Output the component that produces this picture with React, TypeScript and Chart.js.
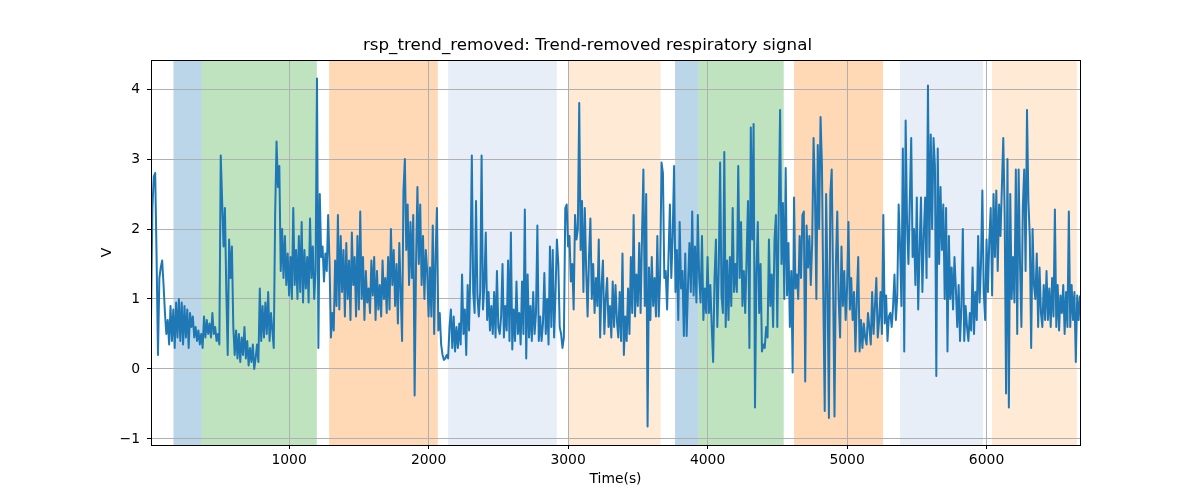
import React, { useEffect, useRef } from 'react';
import { Chart, registerables } from 'chart.js';

Chart.register(...registerables);

// time step between samples (s)
const SAMPLE_STEP = 10;

// signal, in chunks (start time + values, one row = 100 s)
const chunkAStart = 10;
const chunkA = [
  0.66, 2.3, 2.75, 2.8, 1.6, 0.2, 1.3, 1.45, 1.55, 1.2,
  0.8, 0.5, 0.7, 0.35, 0.9, 0.4, 0.85, 0.3, 0.95, 0.45,
  1.0, 0.4, 0.95, 0.35, 0.9, 0.45, 0.85, 0.3, 0.8, 0.6,
  0.75, 0.45, 0.6, 0.4, 0.55, 0.35, 0.5, 0.3, 0.75, 0.45,
  0.7, 0.5, 0.65, 0.45, 0.8, 0.5, 0.6, 0.4, 0.5, 0.35,
  3.05, 2.4, 1.75, 2.3, 1.1, 0.2, 1.85, 1.3, 1.75, 0.6,
  0.2, 0.55, 0.15, 0.5, 0.1, 0.45, 0.2, 0.6, 0.15, 0.4,
  0.05, 0.3, 0.1, 0.35, 0.0, 0.15, 0.35, 0.1, 1.15, 0.4,
  0.9, 0.45, 0.95, 0.5, 1.1, 0.4, 0.8, 0.55, 0.3, 2.2,
  3.25, 2.6, 2.9, 1.4, 2.0, 1.3, 1.9, 1.2, 1.65, 1.05,
  1.6, 1.0, 2.3, 1.2, 1.7, 1.0, 1.9, 1.1, 2.1, 0.95,
];

const chunkBStart = 1110;
const chunkB = [
  1.7, 1.15, 1.6, 0.95, 2.15, 1.3, 1.75, 1.0, 1.4, 4.15,
  0.3, 2.5, 1.6, 1.75, 1.25, 1.65, 1.4, 2.2, 1.5, 0.45,
  0.8, 0.55, 1.55, 0.9, 2.2, 0.85, 1.9, 1.1, 1.7, 0.75,
  1.8, 1.0, 1.55, 0.7, 1.95, 1.2, 1.6, 0.75, 1.9, 0.85,
  2.25, 1.0, 1.6, 0.7, 1.4, 0.95, 1.15, 0.8, 1.55, 1.05,
  1.6, 0.7, 1.4, 0.85, 1.2, 0.75, 1.55, 1.0, 1.3, 0.8,
  1.6, 0.85, 2.0, 1.2, 1.7, 0.9, 1.5, 0.65, 1.8, 1.1,
  0.4, 2.55, 3.0, 1.7, 2.35, 1.2, 2.1, 1.3, 2.2, -0.38,
  1.5, 2.6, 1.5, 2.35, 1.2, 1.9, 1.0, 1.7, 1.4, 0.75,
  1.45, 0.75, 2.05, 0.5, 1.6, 2.3, 0.55, 0.8, 0.35, 0.2,
  0.13, 0.15, 0.2, 0.15, 0.6, 0.85, 0.3, 0.75, 0.25, 0.6,
];

const chunkCStart = 2210;
const chunkC = [
  0.3, 0.65, 0.35, 1.35, 0.5, 0.85, 0.2, 1.2, 0.55, 1.45,
  3.05, 1.1, 0.8, 2.4, 1.05, 0.75, 1.1, 3.05, 0.85, 1.2,
  1.95, 0.7, 1.1, 0.55, 0.9, 0.5, 1.1, 0.45, 1.4, 0.6,
  0.5, 0.75, 1.5, 0.45, 0.9, 0.55, 1.55, 0.4, 1.95, 0.28,
  0.85, 0.4, 1.25, 0.5, 0.8, 0.35, 1.25, 0.5, 2.28, 0.15,
  1.35, 0.45, 0.9, 0.4, 1.1, 0.5, 0.8, 2.05, 0.4, 0.75,
  0.4, 0.65, 1.37, 0.5, 1.0, 0.35, 1.75, 0.6, 1.7, 0.45,
  1.1, 1.85, 1.5, 0.6, 0.5, 0.3, 0.45, 2.3, 2.35, 1.75,
  1.9, 1.25, 1.5, 0.85, 2.2, 1.85, 2.0, 3.8, 1.7, 2.4,
  1.1, 2.3, 1.4, 0.75, 1.6, 2.15, 1.0, 1.5, 0.8, 1.3,
  0.9, 1.85, 0.45, 1.2, 1.55, 0.5, 1.0, 1.3, 0.6, 0.9,
];

const chunkDStart = 3310;
const chunkD = [
  0.45, 1.25, 0.6, 1.2, 0.7, 0.45, 1.1, 0.4, 1.65, 0.2,
  0.75, 0.4, 1.15, 0.5, 1.6, 0.8, 2.2, 0.75, 1.35, 0.9,
  1.8, 0.8, 1.9, 2.85, 0.9, 2.5, -0.82, 1.45, 0.7, 1.6,
  0.9, 1.3, 0.75, 1.9, 0.75, 1.35, 2.95, 2.8, 1.3, 1.4,
  0.85, 1.6, 2.35, 1.3, 1.9, 2.9, 1.1, 1.7, 0.7, 2.1,
  1.15, 1.4, 0.47, 1.65, 0.47, 1.2, 1.8, 1.1, 2.25, 1.05,
  1.75, 0.95, 2.2, 1.3, 0.95, 1.9, 0.7, 1.15, 0.8, 1.6,
  0.8, 1.2, 0.6, 0.1, 1.3, 1.85, 0.6, 1.4, 2.95, 1.05,
  0.8, 3.1, 0.6, 1.55, 0.7, 1.6, 0.9, 2.3, 1.1, 1.5,
  1.1, 2.9, 1.3, 2.1, 0.9, 1.4, 0.8, 1.6, 2.4, 0.3,
  3.45, 1.85, 3.5, -0.55, 1.35, 2.1, 0.8, 1.5, 0.25, 0.35,
];

const chunkEStart = 4410;
const chunkE = [
  0.3, 0.6, 0.45, 1.85, 0.9, 1.35, 0.6, 1.85, 2.2, 0.6,
  2.2, 3.7, 1.5, 2.37, 1.0, 2.87, 1.05, 1.8, 0.6, 1.4,
  -0.05, 2.45, 1.15, 1.35, 1.0, 1.9, 1.3, 2.2, 2.25, -0.18,
  2.05, 1.45, 1.9, 1.2, 1.8, 3.3, 2.5, 1.0, 3.2, 2.0,
  3.6, 2.9, 1.0, -0.6, 2.5, 1.2, -0.7, 2.5, 2.85, 1.2,
  -0.68, 1.5, 2.25, 1.0, 0.45, 1.75, 0.9, 1.4, 0.7, 1.15,
  2.1, 0.85, 1.3, 0.7, 1.1, 0.25, 1.0, 1.6, 0.25, 0.7,
  0.3, 0.65, 0.45, 0.35, 0.8, 0.6, 0.35, 1.1, 0.5, 0.9,
  1.3, 0.45, 0.7, 1.1, 0.5, 2.2, 0.65, 1.05, 0.4, 0.75,
  0.8, 0.6, 0.9, 1.35, 0.7, 1.05, 2.35, 1.75, 0.9, 3.15,
  0.25, 3.55, 2.1, 1.5, 2.4, 3.3, 1.6, 2.0, 1.2, 2.45,
];

const chunkFStart = 5510;
const chunkF = [
  0.85, 1.7, 2.45, 1.1, 1.9, 2.45, 1.3, 4.05, 1.6, 3.35,
  2.0, 3.3, 2.9, -0.1, 3.15, 1.5, 2.6, 1.7, 2.35, 1.0,
  2.3, 0.25, 1.9, 1.0, 1.45, 0.85, 1.6, 1.15, 0.6, 1.2,
  0.4, 0.9, 2.0, 0.4, 0.9, 0.6, 0.4, 0.8, 0.55, 1.45,
  0.5, 1.1, 0.7, 1.9, 0.95, 1.5, 2.55, 1.1, 0.7, 1.85,
  1.1, 1.85, 2.3, 1.05, 2.5, 1.6, 2.55, 1.4, 2.35, 1.9,
  2.6, 3.3, 2.2, -0.35, 3.0, -0.55, 2.5, 1.0, 1.6, 0.95,
  2.85, 0.5, 2.85, 1.5, 0.6, 2.3, 2.85, 1.4, 3.7, 2.4,
  1.9, 0.3, 2.0, 1.2, 1.0, 1.65, 0.6, 1.45, 0.8, 0.6,
  1.2, 0.7, 1.4, 0.7, 1.15, 0.6, 1.3, 0.75, 2.28, 0.6,
  1.2, 0.55, 1.05, 0.8, 1.2, 0.5, 1.1, 0.6, 2.25, 0.6,
  1.2, 0.7, 1.1, 0.1, 1.05, 0.7, 1.05,
];

// shaded phases
const bandStarts = [171, 374, 1287, 2140, 3002, 3767, 3934, 4620, 5380, 6039];
const bandEnds = [374, 1199, 2066, 2919, 3664, 3934, 4546, 5258, 5975, 6647];
const bandColors = [
  'rgba(31,119,180,0.3)',
  'rgba(44,160,44,0.3)',
  'rgba(255,127,14,0.3)',
  'rgba(174,199,232,0.3)',
  'rgba(255,187,120,0.3)',
  'rgba(31,119,180,0.3)',
  'rgba(44,160,44,0.3)',
  'rgba(255,127,14,0.3)',
  'rgba(174,199,232,0.3)',
  'rgba(255,187,120,0.3)',
];

const xTicks = [1000, 2000, 3000, 4000, 5000, 6000];
const yTicks = [-1, 0, 1, 2, 3, 4];

const FONT = 'DejaVu Sans';

const chunks: [number, number[]][] = [
  [chunkAStart, chunkA],
  [chunkBStart, chunkB],
  [chunkCStart, chunkC],
  [chunkDStart, chunkD],
  [chunkEStart, chunkE],
  [chunkFStart, chunkF],
];

const bandsPlugin = {
  id: 'bands',
  beforeDraw(chart: any) {
    const { ctx, chartArea, scales } = chart;
    ctx.save();
    ctx.beginPath();
    ctx.rect(chartArea.left, chartArea.top, chartArea.right - chartArea.left, chartArea.bottom - chartArea.top);
    ctx.clip();
    bandStarts.forEach((s, i) => {
      const x0 = scales.x.getPixelForValue(s);
      const x1 = scales.x.getPixelForValue(bandEnds[i]);
      ctx.fillStyle = bandColors[i];
      ctx.fillRect(x0, chartArea.top, x1 - x0, chartArea.bottom - chartArea.top);
    });
    ctx.restore();
  },
  afterDraw(chart: any) {
    // matplotlib-style box around the axes
    const { ctx, chartArea } = chart;
    ctx.save();
    ctx.strokeStyle = '#000';
    ctx.lineWidth = 1;
    ctx.strokeRect(
      Math.round(chartArea.left) + 0.5,
      Math.round(chartArea.top) + 0.5,
      Math.round(chartArea.right - chartArea.left),
      Math.round(chartArea.bottom - chartArea.top)
    );
    ctx.restore();
  },
};

const App: React.FC = () => {
  const canvasRef = useRef<HTMLCanvasElement | null>(null);

  useEffect(() => {
    if (!canvasRef.current) return;

    const points: { x: number; y: number }[] = [];
    chunks.forEach(([start, values]) => {
      values.forEach((v, i) => points.push({ x: start + i * SAMPLE_STEP, y: v }));
    });

    const tickFont = { family: FONT, size: 13.9 };

    const chart = new Chart(canvasRef.current, {
      type: 'line',
      data: {
        datasets: [
          {
            data: points,
            borderColor: '#1f77b4',
            borderWidth: 2,
            borderJoinStyle: 'round',
            pointRadius: 0,
            tension: 0,
            fill: false,
          },
        ],
      },
      options: {
        animation: false,
        responsive: true,
        maintainAspectRatio: false,
        layout: { padding: { left: 95, right: 120, top: 0, bottom: 8 } },
        plugins: {
          legend: { display: false },
          tooltip: { enabled: false },
          title: {
            display: true,
            text: 'rsp_trend_removed: Trend-removed respiratory signal',
            color: '#000',
            font: { family: FONT, size: 16.7, weight: 'normal' },
            padding: { top: 36, bottom: 4 },
          },
        },
        scales: {
          x: {
            type: 'linear',
            min: 10,
            max: 6670,
            afterBuildTicks: (s: any) => {
              s.ticks = xTicks.map((v) => ({ value: v }));
            },
            afterFit: (s: any) => {
              s.height = 47;
            },
            grid: { color: '#b0b0b0', lineWidth: 1, tickLength: 4, tickColor: '#000' },
            border: { color: '#000', width: 1 },
            ticks: {
              color: '#000',
              font: tickFont,
              padding: 3,
              maxRotation: 0,
              autoSkip: false,
              callback: (v: any) => String(v),
            },
            title: {
              display: true,
              text: 'Time(s)',
              color: '#000',
              font: tickFont,
              padding: { top: 2, bottom: 4 },
            },
          },
          y: {
            type: 'linear',
            min: -1.086,
            max: 4.414,
            afterBuildTicks: (s: any) => {
              s.ticks = yTicks.map((v) => ({ value: v }));
            },
            afterFit: (s: any) => {
              s.width = 56;
            },
            grid: { color: '#b0b0b0', lineWidth: 1, tickLength: 4, tickColor: '#000' },
            border: { color: '#000', width: 1 },
            ticks: {
              color: '#000',
              font: tickFont,
              padding: 7,
              callback: (v: any) => (v < 0 ? '\u2212' + Math.abs(v) : String(v)),
            },
            title: {
              display: true,
              text: 'V',
              color: '#000',
              font: tickFont,
              padding: { top: 4, bottom: 4 },
            },
          },
        },
      },
      plugins: [bandsPlugin],
    });

    return () => {
      chart.destroy();
    };
  }, []);

  return (
    <div style={{ position: 'fixed', left: 0, top: 0, width: 1200, height: 500, background: '#fff' }}>
      <canvas ref={canvasRef}></canvas>
    </div>
  );
};

export default App;
